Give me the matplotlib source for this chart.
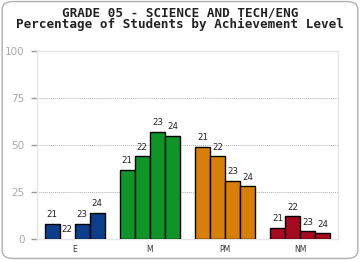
import matplotlib.pyplot as plt
from matplotlib.patches import FancyBboxPatch
import numpy as np

# Data
levels = ['E', 'M', 'PM', 'NM']
years = ['21', '22', '23', '24']
e_vals = [8, 0, 8, 14]
m_vals = [37, 44, 57, 55]
pm_vals = [49, 44, 31, 28]
nm_vals = [6, 12, 4, 3]
colors = ['#0b3f8c', '#0e9427', '#d87f09', '#a50a21']
yticks = [0, 25, 50, 75, 100]

fig = plt.figure(figsize=(3.6, 2.6), dpi=100)
fig.patch.set_facecolor('white')

# rounded outer border
border = FancyBboxPatch((0.006, 0.006), 0.988, 0.988, boxstyle='round,pad=0,rounding_size=0.03',
                        transform=fig.transFigure, facecolor='none', edgecolor='#b0b0b0',
                        linewidth=1.0, zorder=0)
fig.patches.append(border)

fig.text(0.5, 0.949, 'GRADE 05 - SCIENCE AND TECH/ENG', ha='center', va='center',
         family='DejaVu Sans Mono', fontweight='bold', fontsize=9.1, color='#222222')
fig.text(0.5, 0.904, 'Percentage of Students by Achievement Level', ha='center', va='center',
         family='DejaVu Sans Mono', fontweight='bold', fontsize=9.1, color='#222222')

ax = fig.add_axes([0.1028, 0.0808, 0.836, 0.722])
ax.set_xlim(0, 4)
ax.set_ylim(0, 100)

offsets = [-0.3, -0.1, 0.1, 0.3]
for gi, vals in enumerate([e_vals, m_vals, pm_vals, nm_vals]):
    for bi, v in enumerate(vals):
        x = gi + 0.5 + offsets[bi]
        if v > 0:
            ax.bar(x, v, width=0.2, color=colors[gi], edgecolor='black', linewidth=1.0, zorder=3)
        ax.text(x, v + 2.5, years[bi], ha='center', va='bottom', fontsize=6.2, color='#222222', zorder=4)

ax.set_xticks([0.5, 1.5, 2.5, 3.5])
ax.set_xticklabels(levels, fontsize=5.5, color='#333333')
ax.tick_params(axis='x', length=0, pad=4)
ax.set_yticks(yticks)
ax.set_yticklabels([str(t) for t in yticks], fontsize=7.5, color='#aaaaaa')
ax.tick_params(axis='y', length=4, width=1, color='#999999', pad=5)

for t in [25, 50, 75]:
    ax.axhline(t, color='#b0b0b0', linestyle=(0, (1, 1)), linewidth=0.7, zorder=1)

for s in ax.spines.values():
    s.set_color('#e6e6e6')
    s.set_linewidth(1.0)

fig.savefig('out.png', dpi=100)
